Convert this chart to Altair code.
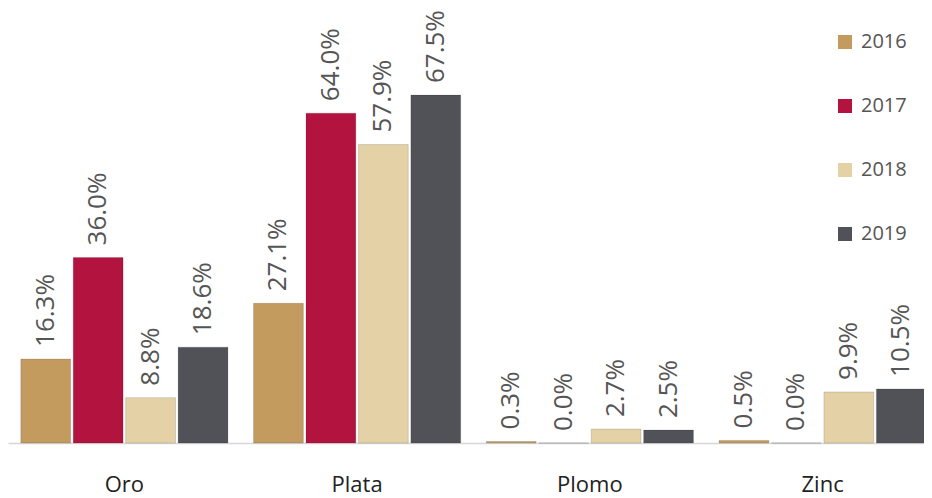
import altair as alt
import pandas as pd

categories = ["Oro", "Plata", "Plomo", "Zinc"]
years = ["2016", "2017", "2018", "2019"]
v2016 = [16.3, 27.1, 0.3, 0.5]
v2017 = [36.0, 64.0, 0.0, 0.0]
v2018 = [8.8, 57.9, 2.7, 9.9]
v2019 = [18.6, 67.5, 2.5, 10.5]
colors = ["#c49b5f", "#b3133f", "#e4d2a6", "#505257"]

rows = []
for yr, vals in zip(years, [v2016, v2017, v2018, v2019]):
    for c, v in zip(categories, vals):
        rows.append({"cat": c, "year": yr, "value": v, "label": f"{v:.1f}%"})
df = pd.DataFrame(rows)

font = "Open Sans"
x = alt.X("cat:N", sort=categories, title=None,
          scale=alt.Scale(paddingInner=0.11, paddingOuter=0.055, range=[0, 931]),
          axis=alt.Axis(labelAngle=0, labelFontSize=22, labelColor="#222222",
                        labelFont=font, labelPadding=31, ticks=False,
                        domainColor="#d6d6d6", domainWidth=1.5))
xo = alt.XOffset("year:N", sort=years, scale=alt.Scale(paddingInner=0.05))
y = alt.Y("value:Q", scale=alt.Scale(domain=[0, 84.4], nice=False),
          axis=None)

base = alt.Chart(df)
bars = base.mark_bar(strokeWidth=1, stroke="#00000022").encode(
    x=x, xOffset=xo, y=y,
    color=alt.Color("year:N", sort=years,
                    scale=alt.Scale(domain=years, range=colors),
                    legend=alt.Legend(title=None, orient="none", legendX=827, legendY=24,
                                      symbolType="square", symbolSize=196,
                                      symbolStrokeWidth=0,
                                      labelFontSize=20, labelColor="#555555",
                                      labelFont=font, rowPadding=44,
                                      labelOffset=6)),
)
labels = base.mark_text(angle=270, align="left", baseline="middle", dx=12,
                        fontSize=26, color="#555555", font=font).encode(
    x=x, xOffset=xo, y=y, text="label:N")

chart = (bars + labels).properties(
    width=916, height=435,
    padding={"left": 0, "top": 0, "right": 0, "bottom": 55},
    background="#ffffff",
    autosize=alt.AutoSizeParams(type="none")
).configure_view(stroke=None)

chart.save("out.html", embed_options={"renderer": "svg", "actions": False})
